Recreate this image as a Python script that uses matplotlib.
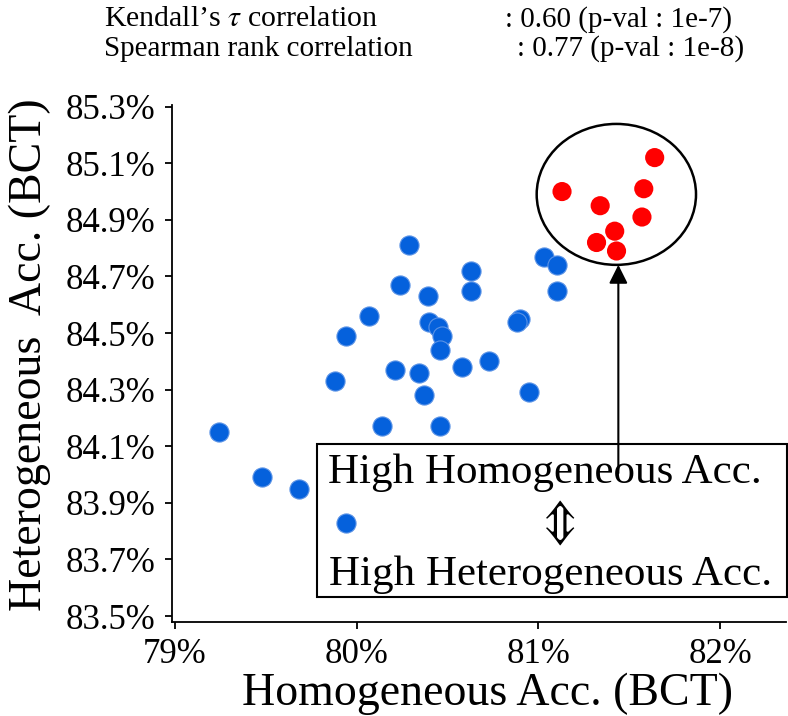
import matplotlib
matplotlib.use("Agg")
import matplotlib.pyplot as plt
from matplotlib.patches import Ellipse, Rectangle
from matplotlib.ticker import PercentFormatter

# homogeneous / heterogeneous accuracy (%)
blue_x = [80.29, 80.24, 80.39, 80.07, 79.94, 80.40, 80.45, 80.47, 80.46, 80.21,
          80.34, 80.58, 80.73, 79.88, 80.37, 80.95, 80.14, 80.46, 79.24, 79.48,
          79.68, 79.94, 80.63, 80.63, 80.90, 80.88, 81.03, 81.10, 81.10]
blue_y = [84.81, 84.67, 84.63, 84.56, 84.49, 84.54, 84.52, 84.49, 84.44, 84.37,
          84.36, 84.38, 84.40, 84.33, 84.28, 84.29, 84.17, 84.17, 84.15, 83.99,
          83.95, 83.83, 84.72, 84.65, 84.55, 84.54, 84.77, 84.74, 84.65]
red_x = [81.64, 81.13, 81.58, 81.34, 81.57, 81.42, 81.32, 81.43]
red_y = [85.12, 85.00, 85.01, 84.95, 84.91, 84.86, 84.82, 84.79]

x_ticks = [79, 80, 81, 82]
y_ticks = [83.5, 83.7, 83.9, 84.1, 84.3, 84.5, 84.7, 84.9, 85.1, 85.3]

plt.rcParams['font.family'] = ['Liberation Serif', 'DejaVu Sans']
plt.rcParams['mathtext.fontset'] = 'stix'

fig = plt.figure(figsize=(7.88, 7.16), dpi=100)
ax = fig.add_axes([0.2187, 0.1317, 0.7788, 0.7217])

ax.scatter(blue_x, blue_y, s=190, color='#0561dc', edgecolors='#5b93e6',
           linewidths=0.8, zorder=3)
ax.scatter(red_x, red_y, s=190, color='#ff0000', edgecolors='none', zorder=3)

ax.set_xlim(78.985, 82.363)
ax.set_ylim(83.48, 85.306)
ax.set_xticks(x_ticks)
ax.set_yticks(y_ticks)
ax.xaxis.set_major_formatter(PercentFormatter(decimals=0))
ax.yaxis.set_major_formatter(PercentFormatter(decimals=1))
ax.tick_params(labelsize=25, length=5, width=1.3, pad=7, direction='out')
for side in ['top', 'right']:
    ax.spines[side].set_visible(False)
for side in ['left', 'bottom']:
    ax.spines[side].set_linewidth(1.3)

# circle round the red cluster and the arrow up to it
ax.add_patch(Ellipse((81.429, 84.99), 0.877, 0.498, fill=False,
                     edgecolor='black', linewidth=1.8, zorder=2))
ax.annotate('', xy=(81.44, 84.741), xytext=(81.44, 84.005),
            arrowprops=dict(arrowstyle='-|>', color='black', lw=1.5,
                            mutation_scale=28, shrinkA=0, shrinkB=0),
            zorder=4)

# text box
fig.patches.append(Rectangle((0.4019, 0.1666), 0.5964, 0.2133,
                             transform=fig.transFigure, fill=False,
                             edgecolor='black', linewidth=1.5, zorder=5))
fig.text(545 / 788, 1 - 473 / 716, 'High Homogeneous Acc.', fontsize=31,
         ha='center', va='center')
fig.text(556.7 / 788, 1 - 523 / 716, r'$\Updownarrow$', fontsize=34,
         ha='center', va='center')
fig.text(551 / 788, 1 - 575 / 716, 'High Heterogeneous Acc.', fontsize=31,
         ha='center', va='center')

# axis labels
fig.text(487 / 788, 1 - 705 / 716, 'Homogeneous Acc. (BCT)', fontsize=33,
         ha='center', va='baseline')
fig.text(30 / 788, 1 - 355 / 716, 'Heterogeneous  Acc. (BCT)', fontsize=33,
         ha='center', va='center', rotation=90)

# correlation lines above the plot
fig.text(104.5 / 788, 1 - 26.5 / 716, 'Kendall\u2019s $\\tau$ correlation',
         fontsize=21.5, va='baseline')
fig.text(505 / 788, 1 - 26.5 / 716, ': 0.60 (p-val : 1e-7)',
         fontsize=21, va='baseline')
fig.text(104.5 / 788, 1 - 56 / 716, 'Spearman rank correlation',
         fontsize=21, va='baseline')
fig.text(517 / 788, 1 - 56 / 716, ': 0.77 (p-val : 1e-8)',
         fontsize=21, va='baseline')

fig.savefig('out.png', dpi=100)
